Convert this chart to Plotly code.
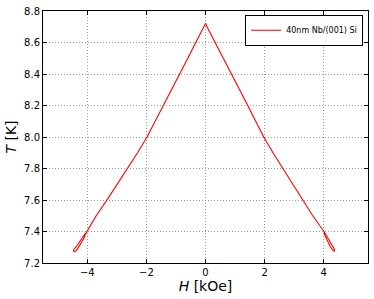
import plotly.graph_objects as go

# Field sweep (kOe) and transition temperature (K)
H = [-4.06, -4.16, -4.27, -4.37, -4.44, -4.47, -4.45, -4.40, -4.33, -4.22, -4.12, -4.06,
     -3.7, -3.3, -2.95, -2.63, -2.3, -1.98, -1.7, -1.42, -1.15, -0.87,
     -0.6, -0.33, -0.12, 0.0,
     0.12, 0.33, 0.58, 0.82, 1.12, 1.43, 1.7, 1.97, 2.3, 2.63, 2.97, 3.3, 3.63, 4.01,
     4.12, 4.23, 4.32, 4.37, 4.36, 4.31, 4.22, 4.12, 4.04, 4.01]
T = [7.39, 7.36, 7.33, 7.305, 7.29, 7.28, 7.272, 7.275, 7.29, 7.32, 7.355, 7.385,
     7.5, 7.61, 7.71, 7.80, 7.90, 8.00, 8.10, 8.20, 8.30, 8.40,
     8.50, 8.60, 8.675, 8.72,
     8.675, 8.60, 8.51, 8.42, 8.31, 8.20, 8.10, 8.00, 7.895, 7.795, 7.695, 7.60, 7.50, 7.40,
     7.365, 7.33, 7.30, 7.285, 7.275, 7.28, 7.305, 7.34, 7.375, 7.40]

x_ticks = [-4, -2, 0, 2, 4]
x_labels = ["\u22124", "\u22122", "0", "2", "4"]
y_ticks = [7.2, 7.4, 7.6, 7.8, 8.0, 8.2, 8.4, 8.6, 8.8]
y_labels = [f"{v:.1f}" for v in y_ticks]

fig = go.Figure()
fig.add_trace(go.Scatter(x=H, y=T, mode="lines", name="40nm Nb/(001) Si",
                         line=dict(color="red", width=1.1)))

axis_common = dict(showline=True, linecolor="black", linewidth=1, mirror="ticks",
                   ticks="inside", ticklen=4, tickcolor="black",
                   showgrid=True, gridcolor="#999999", griddash="1px,2px", gridwidth=1,
                   zeroline=False, tickfont=dict(family="DejaVu Sans", size=10, color="black"))

fig.update_xaxes(range=[-5.5, 5.5], tickvals=x_ticks, ticktext=x_labels,
                 title=dict(text="<i>H</i> [kOe]", font=dict(family="DejaVu Sans", size=14, color="black"), standoff=3),
                 **axis_common)
fig.update_yaxes(range=[7.2, 8.8], tickvals=y_ticks, ticktext=y_labels,
                 title=dict(text="<i>T</i> [K]", font=dict(family="DejaVu Sans", size=14, color="black"), standoff=4),
                 **axis_common)

fig.update_layout(width=374, height=299, margin=dict(l=43, r=6, t=11, b=36),
                  paper_bgcolor="white", plot_bgcolor="white",
                  showlegend=True,
                  legend=dict(x=0.985, y=0.985, xanchor="right", yanchor="top",
                              bgcolor="white", bordercolor="black", borderwidth=1,
                              font=dict(family="DejaVu Sans", size=8, color="black"),
                              itemwidth=30, tracegroupgap=0))

fig.write_html("out.html", config={"displayModeBar": False},
               post_script="document.body.style.margin='0px';")
